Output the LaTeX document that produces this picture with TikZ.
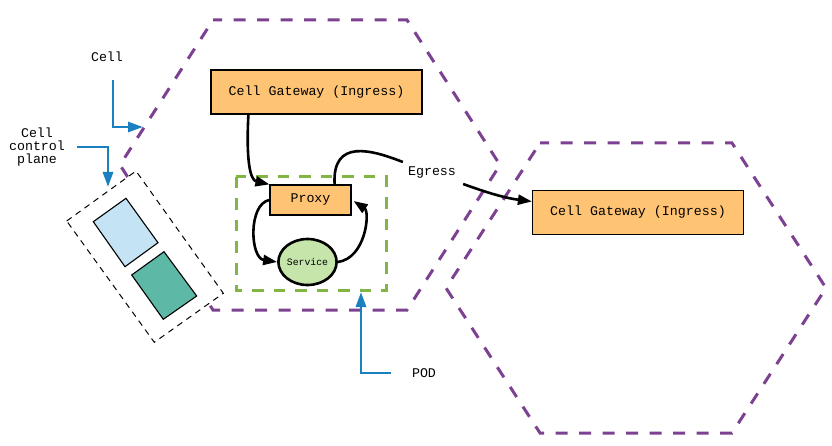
\documentclass[tikz,border=0pt]{standalone}
\usepackage{fontspec}
\setmonofont{Liberation Mono}
\usetikzlibrary{arrows.meta,shapes.geometric}
\definecolor{gwfill}{HTML}{FFC374}
\definecolor{svcfill}{HTML}{C6E5AB}
\definecolor{poddash}{HTML}{82B446}
\definecolor{hexcol}{HTML}{7D4191}
\definecolor{cpblue}{HTML}{C4E3F5}
\definecolor{cpteal}{HTML}{5DB9A6}
\definecolor{arrblue}{HTML}{1A80C0}
\tikzset{
  mono/.style={font=\ttfamily\fontsize{13.3}{15}\selectfont},
  gwbox/.style={draw=black, line width=1.2pt, fill=gwfill, minimum width=211pt, minimum height=44pt, inner sep=0pt, mono},
  proxybox/.style={draw=black, line width=1.2pt, fill=gwfill, minimum width=81pt, minimum height=30pt, inner sep=0pt, mono},
  svcnode/.style={draw=black, line width=2.6pt, fill=svcfill, ellipse, minimum width=52pt, minimum height=46pt, inner sep=0pt, font=\ttfamily\fontsize{9.8}{11}\selectfont},
  hexline/.style={draw=hexcol, line width=3pt, dash pattern=on 12pt off 11.5pt, dash phase=3pt},
  podline/.style={draw=poddash, line width=3pt, dash pattern=on 11.5pt off 10pt},
  cpline/.style={draw=black, fill=white, line width=1pt, dash pattern=on 6pt off 5pt},
  flow/.style={draw=black, line width=2.6pt, -{Triangle[length=14pt,width=10pt]}},
  bluearr/.style={draw=arrblue, line width=2.8pt, -{Triangle[length=15pt,width=10pt]}},
  lbl/.style={mono, inner sep=2pt, align=center},
}
\begin{document}
\begin{tikzpicture}[x=1pt,y=-1pt]
\useasboundingbox (0,0) rectangle (832,446);
% hexagons
\draw[hexline] (213,20) -- (407,20) -- (500,165) -- (407,310) -- (213,310) -- (120,165) -- cycle;
\draw[hexline] (540,143) -- (732,143) -- (826,288) -- (732,433) -- (540,433) -- (446,288) -- cycle;
% control plane
\draw[cpline] (66.7,221) -- (136,171) -- (223.3,293.3) -- (154.3,342.3) -- cycle;
\draw[black, line width=1.1pt, fill=cpblue] (93.3,221.7) -- (126,198.3) -- (158,242.7) -- (125,266.7) -- cycle;
\draw[black, line width=1.1pt, fill=cpteal] (131.7,275) -- (164,251.7) -- (196.7,296) -- (163.3,319.3) -- cycle;
% pod box
\draw[podline] (236,177) rectangle (386,290);
% nodes
\node[gwbox] (gw1) at (316.5,92) {Cell Gateway (Ingress)};
\node[gwbox] (gw2) at (638,212.5) {Cell Gateway (Ingress)};
\node[proxybox] (proxy) at (310.5,200) {Proxy};
\node[svcnode] (svc) at (307.5,262) {Service};
\node[lbl] (egress) at (432,172) {Egress};
\node[lbl] (celllbl) at (107,57) {Cell};
\node[lbl, font=\ttfamily\fontsize{13.3}{13.3}\selectfont] (cplbl) at (37,147) {Cell\\control\\plane};
\node[lbl] (podlbl) at (424,373) {POD};
% connectors
\draw[flow] ([xshift=38pt]gw1.south west) .. controls (246,160) and (250,180) .. (proxy.north west);
\draw[flow] (proxy.west) .. controls (248,204) and (250,258) .. (svc.west);
\draw[flow] (svc.east) .. controls (366,258) and (370,212) .. ([shift={(2pt,-1pt)}]proxy.east);
\draw[black, line width=2.6pt] ([xshift=-17pt]proxy.north east) .. controls (332,138) and (372,150) .. ([shift={(-3pt,10pt)}]egress.west);
\draw[flow] ([shift={(5pt,-12pt)}]egress.east) .. controls (488,193) and (505,198) .. ([yshift=11pt]gw2.west);
% blue pointers
\coordinate (cellstart) at (113,80);
\coordinate (celltip) at (143,127);
\draw[bluearr] (cellstart) |- (celltip);
\coordinate (cpstart) at (77,147);
\coordinate (cptip) at (108,187);
\draw[bluearr] (cpstart) -| (cptip);
\coordinate (podstart) at (391,373);
\coordinate (podtip) at (361,292);
\draw[bluearr] (podstart) -| (podtip);
\end{tikzpicture}
\end{document}
